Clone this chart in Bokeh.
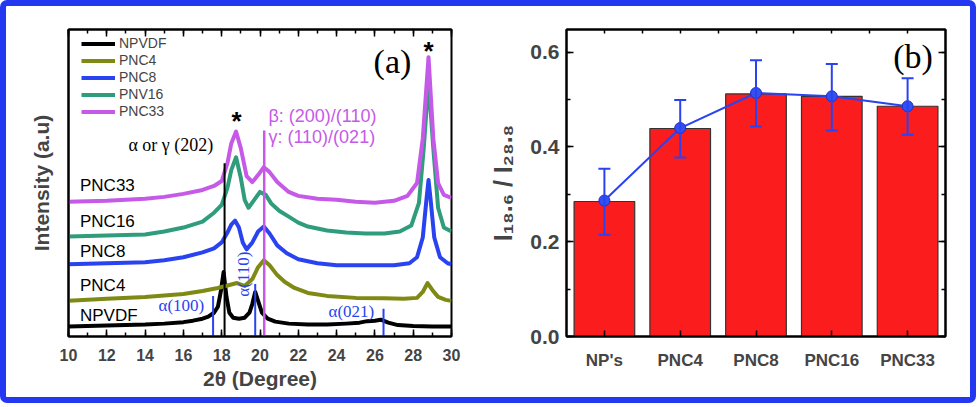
from bokeh.plotting import figure
from bokeh.layouts import row
from bokeh.models import (ColumnDataSource, Label, LinearAxis, FixedTicker, SingleIntervalTicker,
                          Whisker, TeeHead, Legend, LegendItem, PrintfTickFormatter, Range1d,
                          CustomJSTickFormatter)
from bokeh.embed import file_html
from bokeh.resources import INLINE

# ---------------- panel (a): XRD patterns (2θ in degree, stacked intensity in a.u.) ----------------
npvdf_x = [10, 12, 14, 15, 16, 16.5, 17, 17.3, 17.6, 17.8, 17.95, 18.1, 18.25, 18.4, 18.6, 18.9, 19.2, 19.45,
           19.6, 19.75, 19.9, 20.1, 20.4, 20.8, 21.5, 22.5, 23.5, 24.5, 25.2, 25.6, 26.0, 26.3, 26.7, 27.2, 28, 29, 30]
npvdf_y = [10, 11, 12, 13, 14.5, 16, 18, 20, 24, 30, 45, 65, 40, 24, 19, 18, 19, 24,
           33, 45, 36, 24, 18, 15, 13, 12, 12, 13, 14, 15.5, 16, 17, 14, 11.5, 10.5, 10, 10]

pnc4_x = [10, 12, 14, 16, 17, 17.8, 18.4, 18.8, 19.2, 19.6, 19.9, 20.2, 20.5, 20.9, 21.3, 21.8, 22.5, 23.5,
          25, 26.5, 27.5, 28.2, 28.5, 28.75, 29.0, 29.3, 29.7, 30]
pnc4_y = [36, 38, 40, 43, 46, 49, 52, 54, 51, 58, 70, 77, 72, 62, 55, 49, 44, 41,
          39, 38.5, 38, 39, 45, 54, 47, 40, 37, 36]

pnc8_x = [10, 12, 14, 15, 16, 17, 17.6, 18.0, 18.3, 18.5, 18.7, 18.9, 19.1, 19.3, 19.6, 19.9, 20.2, 20.5,
          20.9, 21.4, 22, 23, 24, 25, 26, 27, 27.8, 28.2, 28.5, 28.7, 28.8, 28.9, 29.1, 29.4, 29.8, 30]
pnc8_y = [73, 74, 75, 77, 80, 85, 89, 95, 105, 113, 117, 110, 95, 88, 95, 106, 111, 104,
          92, 84, 78, 74, 72, 72, 72, 72, 74, 80, 100, 140, 158, 140, 100, 80, 74, 73]

pnc16_x = [10, 12, 14, 15, 16, 17, 17.6, 18.0, 18.3, 18.5, 18.75, 19.0, 19.2, 19.4, 19.7, 20.0, 20.3, 20.6,
           21.0, 21.5, 22, 22.5, 23.5, 24.5, 25.5, 26.5, 27.3, 27.9, 28.3, 28.55, 28.8, 29.05, 29.3, 29.6, 30]
pnc16_y = [101, 102, 103, 106, 110, 116, 125, 133, 150, 168, 181, 160, 138, 130, 138, 146, 143, 134,
           127, 121, 115, 111, 107, 105, 104, 104, 106, 112, 135, 190, 258, 190, 130, 110, 106]

pnc33_x = [10, 12, 14, 15, 16, 17, 17.6, 18.0, 18.3, 18.5, 18.75, 19.0, 19.3, 19.6, 19.9, 20.2, 20.5,
           20.9, 21.5, 22, 23, 24, 25, 26, 27, 27.7, 28.2, 28.5, 28.8, 29.05, 29.3, 29.6, 30]
pnc33_y = [136, 137, 139, 141, 144, 148, 152, 157, 175, 195, 207, 190, 162, 156, 163, 171, 166,
           156, 146, 142, 139, 138, 136, 135, 137, 142, 155, 200, 282, 200, 155, 143, 140]

legend_names = ["NPVDF", "PNC4", "PNC8", "PNV16", "PNC33"]
curve_names = ["NPVDF", "PNC4", "PNC8", "PNC16", "PNC33"]

# reference peak markers: 2θ position and height (a.u.)
ref_alpha_x = [17.55, 19.75, 26.45]
ref_alpha_top = [41, 53, 28]
ref_202_x = 18.15
ref_202_top = 175
ref_beta_x = 20.22
ref_beta_top = 208

# ---------------- panel (b): intensity ratio ----------------
categories = ["NP's", "PNC4", "PNC8", "PNC16", "PNC33"]
ratio_bar = [0.285, 0.439, 0.512, 0.507, 0.486]
ratio_mean = [0.287, 0.440, 0.514, 0.507, 0.486]
ratio_low = [0.215, 0.378, 0.443, 0.435, 0.426]
ratio_high = [0.354, 0.499, 0.583, 0.575, 0.545]

SANS = "Liberation Sans"
SERIF = "Liberation Serif"
BLUE = "#2a43f0"
VIOLET = "#c65ae8"
colors = ["#000000", "#7f8a14", "#2a43f0", "#2f9c7c", VIOLET]
blank = CustomJSTickFormatter(code="return ''")

# ================= figure (a) =================
p1 = figure(width=480, height=391, x_range=Range1d(10, 30), y_range=Range1d(0, 310),
            output_backend="svg", toolbar_location=None,
            min_border_left=62, min_border_right=35, min_border_top=20, min_border_bottom=61)
p1.grid.visible = False
p1.outline_line_color = "black"
p1.outline_line_width = 2

ax = p1.xaxis[0]
ax.ticker = SingleIntervalTicker(interval=2, num_minor_ticks=2)
ax.axis_line_width = 2
ax.major_tick_in = 7
ax.major_tick_out = 0
ax.minor_tick_in = 4
ax.minor_tick_out = 0
ax.major_tick_line_width = 1.5
ax.minor_tick_line_width = 1.5
ax.major_label_text_font = SANS
ax.major_label_text_font_style = "bold"
ax.major_label_text_font_size = "16px"
ax.major_label_standoff = 12
ax.axis_label = "2θ (Degree)"
ax.axis_label_text_font = SANS
ax.axis_label_text_font_style = "bold"
ax.axis_label_text_font_size = "21px"
ax.axis_label_standoff = 3

ay = p1.yaxis[0]
ay.ticker = FixedTicker(ticks=[])
ay.axis_line_width = 2
ay.axis_label = "Intensity (a.u)"
ay.axis_label_text_font = SANS
ay.axis_label_text_font_style = "bold"
ay.axis_label_text_font_size = "21px"
ay.axis_label_standoff = 16

top1 = LinearAxis(ticker=SingleIntervalTicker(interval=2, num_minor_ticks=2), formatter=blank,
                  major_label_standoff=0,
                  major_tick_in=7, major_tick_out=0, minor_tick_in=4, minor_tick_out=0,
                  major_tick_line_width=1.5, minor_tick_line_width=1.5, axis_line_width=2)
p1.add_layout(top1, "above")

xs_all = [npvdf_x, pnc4_x, pnc8_x, pnc16_x, pnc33_x]
ys_all = [npvdf_y, pnc4_y, pnc8_y, pnc16_y, pnc33_y]
items = []
for name, xs, ys, c in zip(legend_names, xs_all, ys_all, colors):
    r = p1.line(xs, ys, line_color=c, line_width=4, line_join="round")
    items.append(LegendItem(label=name, renderers=[r]))

# reference lines
p1.segment(x0=ref_alpha_x, y0=[0] * 3, x1=ref_alpha_x, y1=ref_alpha_top, line_color=BLUE, line_width=2)
p1.segment(x0=[ref_202_x], y0=[0], x1=[ref_202_x], y1=[ref_202_top], line_color="black", line_width=2)
p1.segment(x0=[ref_beta_x], y0=[0], x1=[ref_beta_x], y1=[ref_beta_top], line_color=VIOLET, line_width=2.5)

leg = Legend(items=items, location=(13, 217), padding=0, margin=0, spacing=1,
             glyph_width=34, glyph_height=15, label_height=15, label_standoff=4,
             label_text_font=SANS, label_text_font_size="14px",
             border_line_alpha=0, background_fill_alpha=0)
p1.add_layout(leg)

def lab(p, x, y, text, font=SANS, size="17px", color="black", style="normal", angle=0, align="left"):
    p.add_layout(Label(x=x, y=y, text=text, text_font=font, text_font_size=size, text_color=color,
                       text_font_style=style, angle=angle, text_align=align, text_baseline="middle"))

for name, yy in zip(curve_names[::-1], [152, 116, 86, 52, 21]):
    lab(p1, 10.6, yy, name)
lab(p1, 14.7, 31, "α(100)", font=SERIF, size="17px", color=BLUE)
lab(p1, 19.14, 63, "α(110)", font=SERIF, size="17px", color=BLUE, angle=1.5708, align="center")
lab(p1, 23.58, 25, "α(021)", font=SERIF, size="17px", color=BLUE)
lab(p1, 13.13, 193, "α or γ (202)", font=SERIF, size="18px")
lab(p1, 20.44, 223, "β: (200)/(110)", size="18px", color=VIOLET)
lab(p1, 20.44, 201, "γ: (110)/(021)", size="18px", color=VIOLET)
lab(p1, 18.77, 218, "*", size="26px", style="bold", align="center")
lab(p1, 28.8, 288, "*", size="26px", style="bold", align="center")
lab(p1, 25.93, 278, "(a)", font=SERIF, size="34px")

# ================= figure (b) =================
xpos = [1, 2, 3, 4, 5]
p2 = figure(width=484, height=391, x_range=Range1d(0.5, 5.5), y_range=Range1d(0, 0.648),
            output_backend="svg", toolbar_location=None,
            min_border_left=76, min_border_right=25, min_border_top=23, min_border_bottom=57)
p2.grid.visible = False
p2.outline_line_color = "black"
p2.outline_line_width = 2

p2.vbar(x=xpos, top=ratio_bar, width=0.8, fill_color="#fb1d1d", line_color="#333333", line_width=1.2)

src = ColumnDataSource(dict(x=xpos, lower=ratio_low, upper=ratio_high))
p2.add_layout(Whisker(source=src, base="x", lower="lower", upper="upper", line_color=BLUE, line_width=2,
                      level="overlay",
                      upper_head=TeeHead(size=12, line_color=BLUE, line_width=2),
                      lower_head=TeeHead(size=12, line_color=BLUE, line_width=2)))
p2.line(xpos, ratio_mean, line_color=BLUE, line_width=2)
p2.scatter(xpos, ratio_mean, size=11, fill_color="#3550f2", line_color="#1a2fc8", line_width=1,
           level="overlay")

bx = p2.xaxis[0]
bx.ticker = FixedTicker(ticks=xpos, minor_ticks=[])
bx.major_label_overrides = {i: c for i, c in zip(xpos, categories)}
bx.axis_line_width = 2
bx.major_tick_in = 6
bx.major_tick_out = 0
bx.major_tick_line_width = 1.5
bx.major_label_text_font = SANS
bx.major_label_text_font_style = "bold"
bx.major_label_text_font_size = "17px"
bx.major_label_standoff = 14

by = p2.yaxis[0]
by.ticker = SingleIntervalTicker(interval=0.2, num_minor_ticks=2)
by.formatter = PrintfTickFormatter(format="%.1f")
by.axis_line_width = 2
by.major_tick_in = 7
by.major_tick_out = 0
by.minor_tick_in = 4
by.minor_tick_out = 0
by.major_tick_line_width = 1.5
by.minor_tick_line_width = 1.5
by.major_label_text_font = SANS
by.major_label_text_font_style = "bold"
by.major_label_text_font_size = "21px"
by.major_label_standoff = 7
by.axis_label = "I₁₈.₆ / I₂₈.₈"
by.axis_label_text_font = SANS
by.axis_label_text_font_style = "bold"
by.axis_label_text_font_size = "25px"
by.axis_label_standoff = 10

top2 = LinearAxis(ticker=FixedTicker(ticks=xpos, minor_ticks=[1.5, 2.5, 3.5, 4.5]), formatter=blank,
                  major_label_standoff=0,
                  major_tick_in=4, major_tick_out=0, minor_tick_in=4, minor_tick_out=0,
                  major_tick_line_width=1.5, minor_tick_line_width=1.5, axis_line_width=2)
p2.add_layout(top2, "above")
right2 = LinearAxis(ticker=SingleIntervalTicker(interval=0.2, num_minor_ticks=2), formatter=blank,
                    major_label_standoff=0,
                    major_tick_in=7, major_tick_out=0, minor_tick_in=4, minor_tick_out=0,
                    major_tick_line_width=1.5, minor_tick_line_width=1.5, axis_line_width=2)
p2.add_layout(right2, "right")

lab(p2, 4.81, 0.592, "(b)", font=SERIF, size="34px")

layout = row(p1, p2, styles={"border": "6px solid #2338f0", "border-radius": "7px", "background": "white"})
open("out.html", "w").write(file_html(layout, INLINE))
